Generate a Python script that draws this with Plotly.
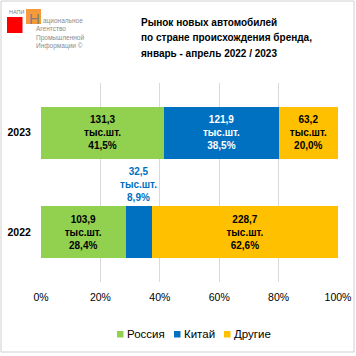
import plotly.graph_objects as go

years = ["2022", "2023"]
series_names = ["Россия", "Китай", "Другие"]
russia = [103.9, 131.3]
china = [32.5, 121.9]
others = [228.7, 63.2]
russia_pct = ["28,4%", "41,5%"]
china_pct = ["8,9%", "38,5%"]
others_pct = ["62,6%", "20,0%"]
x_ticks = [0, 20, 40, 60, 80, 100]
x_tick_labels = ["0%", "20%", "40%", "60%", "80%", "100%"]
title_lines = ["Рынок новых автомобилей",
               "по стране происхождения бренда,",
               "январь - апрель 2022 / 2023"]

W, H = 356, 356
ML, MR, MT, MB = 41, 18, 83, 74
PW, PH = W - ML - MR, H - MT - MB

def px(x):
    return (x - ML) / PW

def py(y):
    return 1 - (y - MT) / PH

FONT = "Liberation Sans, Arial, sans-serif"
NARROW = "Liberation Sans Narrow, " + FONT

def fmt(v):
    return f"{v:.1f}".replace(".", ",")

colors = ["#92D050", "#0070C0", "#FFC000"]
text_colors = ["#000000", "#FFFFFF", "#000000"]
vals = [russia, china, others]
pcts = [russia_pct, china_pct, others_pct]

fig = go.Figure()
for i, name in enumerate(series_names):
    texts = []
    for j in range(len(years)):
        if name == "Китай" and years[j] == "2022":
            texts.append("")
        else:
            texts.append(f"<b>{fmt(vals[i][j])}<br>тыс.шт.<br>{pcts[i][j]}</b>")
    fig.add_trace(go.Bar(
        y=years, x=vals[i], name=name, orientation="h",
        marker=dict(color=colors[i], line=dict(width=0)),
        text=texts, texttemplate="%{text}", textposition="inside",
        insidetextanchor="middle",
        textfont=dict(size=10, color=text_colors[i], family=FONT),
        hoverinfo="skip", showlegend=False,
    ))

fig.update_layout(
    width=W, height=H, barmode="stack", barnorm="percent", bargap=0.48,
    margin=dict(l=ML, r=MR, t=MT, b=MB, autoexpand=False),
    paper_bgcolor="white", plot_bgcolor="white",
    font=dict(family=FONT, size=11, color="#000000"),
    showlegend=False,
)
fig.update_xaxes(range=[0, 100], tickvals=x_ticks, ticktext=x_tick_labels,
                 showgrid=True, gridcolor="#D9D9D9", gridwidth=1, zeroline=False,
                 showline=False, ticks="outside", ticklen=5, tickcolor="rgba(0,0,0,0)",
                 tickfont=dict(size=10.5, color="#000000"), fixedrange=True,
                 automargin=False)
fig.update_yaxes(categoryorder="array", categoryarray=years, range=[-0.5, 1.5],
                 showgrid=False, zeroline=False, showline=False,
                 ticks="outside", ticklen=7, tickcolor="rgba(0,0,0,0)",
                 tickfont=dict(size=10.5, color="#000000"), fixedrange=True,
                 automargin=False,
                 tickvals=years, ticktext=[f"<b>{y}</b>" for y in years])

# China 2022 label above its segment
tot22 = russia[0] + china[0] + others[0]
cx = (russia[0] + china[0] / 2) / tot22 * 100
fig.add_annotation(x=cx, y=0.26, xref="x", yref="y", yanchor="bottom", yshift=1,
                   text=f"<b>{fmt(china[0])}<br>тыс.шт.<br>{china_pct[0]}</b>",
                   showarrow=False, font=dict(size=10, color="#0070C0", family=FONT))

# Title lines
for k, line in enumerate(title_lines):
    fig.add_annotation(x=px(140), y=py(22 + 15.5 * k), xref="paper", yref="paper",
                       xanchor="left", yanchor="middle", align="left", showarrow=False,
                       text=f"<b>{line}</b>", borderpad=0,
                       font=dict(size=10, color="#000000", family=FONT))

shapes = []
# frame
shapes.append(dict(type="rect", xref="paper", yref="paper",
                   x0=px(1), x1=px(354), y0=py(352), y1=py(1),
                   line=dict(color="#D0D0D0", width=1), fillcolor="rgba(0,0,0,0)"))
# logo squares
shapes.append(dict(type="rect", xref="paper", yref="paper",
                   x0=px(7), x1=px(22.5), y0=py(33), y1=py(17),
                   line=dict(width=0), fillcolor="#FF0000"))
shapes.append(dict(type="rect", xref="paper", yref="paper",
                   x0=px(26), x1=px(41), y0=py(24), y1=py(9),
                   line=dict(width=0), fillcolor="#F79A3A"))

# custom legend
legend_x = [117, 174, 224]
legend_y = 334
for i, name in enumerate(series_names):
    lx = legend_x[i]
    shapes.append(dict(type="rect", xref="paper", yref="paper",
                       x0=px(lx), x1=px(lx + 6.5), y0=py(legend_y + 3.5), y1=py(legend_y - 3),
                       line=dict(width=0), fillcolor=colors[i]))
    fig.add_annotation(x=px(lx + 8.5), y=py(legend_y), xref="paper", yref="paper",
                       xanchor="left", yanchor="middle", showarrow=False, text=name,
                       borderpad=0, font=dict(size=11.5, color="#000000", family=FONT))
fig.update_layout(shapes=shapes)

fig.add_annotation(x=px(7.5), y=py(12), xref="paper", yref="paper", xanchor="left",
                   yanchor="middle", showarrow=False, text="НАПИ", borderpad=0,
                   font=dict(size=5.5, color="#7F7F7F", family=FONT))
fig.add_annotation(x=px(41), y=py(18.5), xref="paper", yref="paper", xanchor="right",
                   yanchor="middle", showarrow=False, text="Н", borderpad=0,
                   font=dict(size=15, color="#808080", family=NARROW))
logo_lines = [("ациональное", 41.5, 20.5), ("Агентство", 35, 29),
              ("Промышленной", 35, 37.5), ("Информации ©", 35, 46)]
for t, lx, ly in logo_lines:
    fig.add_annotation(x=px(lx), y=py(ly), xref="paper", yref="paper", xanchor="left",
                       yanchor="middle", showarrow=False, text=t, borderpad=0,
                       font=dict(size=6.5, color="#8C8C8C", family=FONT))

fig.write_html("out.html", config={"displayModeBar": False},
               post_script="document.body.style.margin='0';document.body.style.overflow='hidden';")
